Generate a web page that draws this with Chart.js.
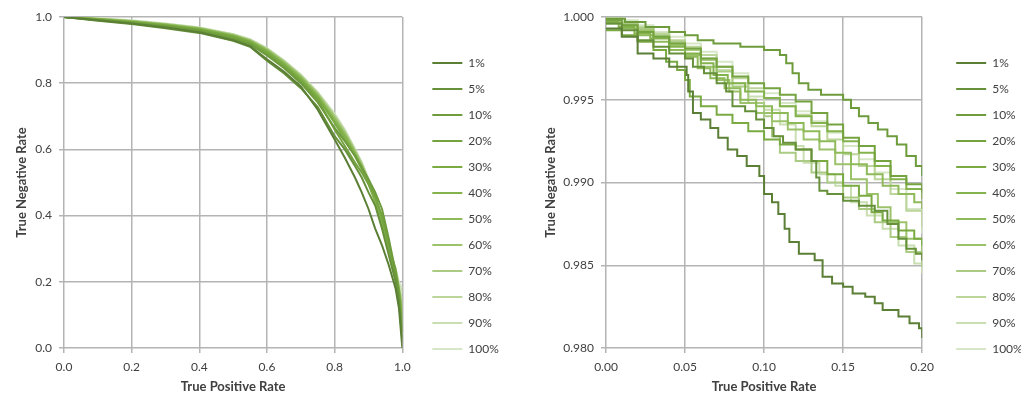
<!DOCTYPE html>
<html>
<head>
<meta charset="utf-8">
<script src="https://cdn.jsdelivr.net/npm/chart.js@4.4.1/dist/chart.umd.min.js"></script>
<style>
  body { margin: 0; background: #fff; width: 1021px; height: 395px; overflow: hidden; position: relative; }
  canvas { position: absolute; top: 0; }
  #fullChart { left: 0; }
  #zoomChart { left: 528px; }
</style>
</head>
<body>
<canvas id="fullChart" width="502" height="395"></canvas>
<canvas id="zoomChart" width="497" height="395"></canvas>
<script>
// legend labels + colours (dark -> light)
var sampleLabels = ["1%", "5%", "10%", "20%", "30%", "40%", "50%", "60%", "70%", "80%", "90%", "100%"];
var lineColors = ["#5b7f35", "#66903a", "#6e9c3c", "#74a33f", "#7aaa42", "#84b24c",
                  "#8fba5a", "#9cc26b", "#abcb84", "#bbd59b", "#c9deb1", "#d6e6c6"];

// ---- full ROC (left): shared TPR values, one TNR array per sample ----
var fullTpr = [0, 0.1, 0.2, 0.3, 0.4, 0.5, 0.55, 0.6, 0.65, 0.7, 0.75, 0.8, 0.83, 0.86, 0.88, 0.9, 0.92, 0.94, 0.96, 0.98, 0.99, 1.0];
var full1   = [1.0, 0.990, 0.980, 0.968, 0.954, 0.930, 0.912, 0.872, 0.835, 0.790, 0.720, 0.630, 0.575, 0.515, 0.470, 0.420, 0.360, 0.310, 0.250, 0.180, 0.120, 0.0];
var full5   = [1.0, 0.989, 0.979, 0.966, 0.952, 0.928, 0.910, 0.868, 0.830, 0.785, 0.728, 0.640, 0.600, 0.550, 0.515, 0.470, 0.430, 0.360, 0.280, 0.200, 0.140, 0.02];
var full10  = [1.0, 0.991, 0.982, 0.971, 0.958, 0.934, 0.917, 0.884, 0.846, 0.800, 0.742, 0.665, 0.625, 0.580, 0.545, 0.510, 0.470, 0.420, 0.330, 0.230, 0.160, 0.03];
var full20  = [1.0, 0.992, 0.984, 0.973, 0.961, 0.938, 0.920, 0.889, 0.850, 0.805, 0.750, 0.660, 0.610, 0.560, 0.530, 0.495, 0.455, 0.400, 0.310, 0.210, 0.150, 0.05];
var full30  = [1.0, 0.993, 0.985, 0.975, 0.962, 0.941, 0.924, 0.894, 0.855, 0.810, 0.755, 0.680, 0.630, 0.580, 0.540, 0.500, 0.460, 0.390, 0.310, 0.230, 0.170, 0.06];
var full40  = [1.0, 0.993, 0.985, 0.975, 0.963, 0.943, 0.926, 0.897, 0.858, 0.814, 0.760, 0.685, 0.640, 0.585, 0.545, 0.495, 0.440, 0.370, 0.300, 0.240, 0.180, 0.08];
var full50  = [1.0, 0.994, 0.987, 0.977, 0.965, 0.944, 0.928, 0.899, 0.861, 0.817, 0.762, 0.690, 0.645, 0.590, 0.550, 0.505, 0.455, 0.385, 0.310, 0.230, 0.170, 0.10];
var full60  = [1.0, 0.994, 0.987, 0.977, 0.966, 0.945, 0.929, 0.901, 0.864, 0.820, 0.766, 0.695, 0.648, 0.592, 0.553, 0.505, 0.450, 0.380, 0.300, 0.225, 0.175, 0.12];
var full70  = [1.0, 0.995, 0.988, 0.978, 0.966, 0.946, 0.930, 0.903, 0.866, 0.822, 0.768, 0.700, 0.652, 0.595, 0.555, 0.500, 0.445, 0.375, 0.290, 0.215, 0.165, 0.13];
var full80  = [1.0, 0.995, 0.988, 0.979, 0.967, 0.947, 0.931, 0.904, 0.867, 0.824, 0.770, 0.702, 0.655, 0.598, 0.558, 0.505, 0.450, 0.380, 0.300, 0.225, 0.180, 0.15];
var full90  = [1.0, 0.996, 0.989, 0.980, 0.968, 0.948, 0.932, 0.905, 0.868, 0.825, 0.772, 0.705, 0.658, 0.600, 0.560, 0.510, 0.455, 0.385, 0.310, 0.235, 0.190, 0.17];
var full100 = [1.0, 0.996, 0.990, 0.980, 0.968, 0.948, 0.933, 0.906, 0.869, 0.826, 0.773, 0.708, 0.660, 0.602, 0.562, 0.512, 0.458, 0.388, 0.315, 0.240, 0.200, 0.18];

// ---- zoomed ROC (right): [TPR, TNR] step corners per sample ----
var zoom1 = [[0,0.9993],[0.01,0.9988],[0.02,0.9978],[0.03,0.9975],[0.04,0.9970],[0.051,0.9965],[0.052,0.9955],[0.055,0.9942],[0.06,0.9938],[0.066,0.9933],[0.071,0.9927],[0.077,0.9920],[0.083,0.9916],[0.089,0.9910],[0.097,0.9904],[0.1,0.9893],[0.105,0.9888],[0.109,0.9881],[0.113,0.9872],[0.116,0.9864],[0.122,0.9857],[0.132,0.9853],[0.137,0.9843],[0.143,0.9839],[0.15,0.9837],[0.156,0.9833],[0.164,0.9831],[0.17,0.9827],[0.175,0.9823],[0.185,0.9819],[0.192,0.9815],[0.198,0.9812],[0.2,0.9806]];
var zoom5 = [[0,0.9996],[0.01,0.9992],[0.02,0.9986],[0.03,0.9982],[0.04,0.9978],[0.05,0.9975],[0.055,0.9970],[0.062,0.9966],[0.07,0.9960],[0.076,0.9955],[0.08,0.9946],[0.088,0.9943],[0.095,0.9938],[0.1,0.9933],[0.106,0.9928],[0.112,0.9924],[0.12,0.9920],[0.13,0.9913],[0.133,0.9903],[0.135,0.9895],[0.14,0.9893],[0.15,0.9889],[0.16,0.9886],[0.17,0.9883],[0.178,0.9875],[0.185,0.9866],[0.19,0.9860],[0.196,0.9857],[0.2,0.9853]];
var zoom10 = [[0,0.9999],[0.012,0.9997],[0.025,0.9994],[0.04,0.9991],[0.05,0.9989],[0.058,0.9986],[0.068,0.9984],[0.085,0.9982],[0.1,0.9980],[0.11,0.9977],[0.114,0.9972],[0.118,0.9966],[0.122,0.9960],[0.128,0.9956],[0.136,0.9953],[0.15,0.9950],[0.155,0.9945],[0.16,0.9940],[0.166,0.9936],[0.172,0.9932],[0.178,0.9928],[0.184,0.9923],[0.19,0.9916],[0.196,0.9910],[0.2,0.9904]];
var zoom20 = [[0,0.9998],[0.01,0.9995],[0.02,0.9991],[0.03,0.9988],[0.04,0.9984],[0.05,0.9981],[0.06,0.9975],[0.07,0.9970],[0.08,0.9964],[0.09,0.9960],[0.1,0.9957],[0.11,0.9953],[0.12,0.9949],[0.13,0.9942],[0.14,0.9935],[0.15,0.9927],[0.16,0.9922],[0.17,0.9913],[0.18,0.9904],[0.19,0.9899],[0.2,0.9894]];
var zoom30 = [[0,0.9992],[0.01,0.9989],[0.02,0.9985],[0.03,0.9980],[0.038,0.9973],[0.045,0.9968],[0.05,0.9962],[0.053,0.9952],[0.06,0.9946],[0.07,0.9941],[0.08,0.9936],[0.09,0.9931],[0.1,0.9926],[0.11,0.9923],[0.12,0.9920],[0.13,0.9913],[0.14,0.9905],[0.15,0.9898],[0.16,0.9892],[0.168,0.9882],[0.175,0.9877],[0.185,0.9871],[0.195,0.9866],[0.2,0.9862]];
var zoom40 = [[0,0.9997],[0.008,0.9994],[0.018,0.9990],[0.028,0.9987],[0.04,0.9982],[0.05,0.9978],[0.06,0.9972],[0.068,0.9965],[0.077,0.9960],[0.088,0.9955],[0.1,0.9951],[0.11,0.9946],[0.12,0.9940],[0.13,0.9936],[0.14,0.9931],[0.15,0.9925],[0.16,0.9918],[0.17,0.9910],[0.18,0.9902],[0.19,0.9896],[0.2,0.9890]];
var zoom50 = [[0,0.9996],[0.01,0.9993],[0.02,0.9989],[0.03,0.9985],[0.04,0.9980],[0.05,0.9976],[0.058,0.9969],[0.066,0.9963],[0.075,0.9957],[0.085,0.9950],[0.095,0.9946],[0.105,0.9942],[0.115,0.9936],[0.125,0.9931],[0.135,0.9925],[0.145,0.9918],[0.155,0.9911],[0.165,0.9905],[0.175,0.9898],[0.185,0.9893],[0.195,0.9888],[0.2,0.9884]];
var zoom60 = [[0,0.9998],[0.01,0.9995],[0.02,0.9992],[0.03,0.9988],[0.04,0.9983],[0.05,0.9977],[0.06,0.9970],[0.07,0.9962],[0.078,0.9955],[0.085,0.9948],[0.095,0.9942],[0.105,0.9937],[0.115,0.9932],[0.125,0.9926],[0.135,0.9920],[0.145,0.9911],[0.155,0.9902],[0.165,0.9893],[0.172,0.9885],[0.18,0.9876],[0.19,0.9866],[0.2,0.9857]];
var zoom70 = [[0,0.9999],[0.01,0.9996],[0.02,0.9993],[0.03,0.9989],[0.04,0.9985],[0.05,0.9980],[0.06,0.9974],[0.07,0.9967],[0.08,0.9958],[0.09,0.9948],[0.1,0.9940],[0.105,0.9928],[0.11,0.9918],[0.12,0.9913],[0.13,0.9906],[0.14,0.9900],[0.15,0.9891],[0.16,0.9884],[0.17,0.9876],[0.18,0.9867],[0.19,0.9858],[0.2,0.9849]];
var zoom80 = [[0,0.9999],[0.01,0.9997],[0.02,0.9994],[0.03,0.9990],[0.04,0.9986],[0.05,0.9982],[0.06,0.9977],[0.07,0.9970],[0.08,0.9963],[0.09,0.9957],[0.1,0.9951],[0.11,0.9946],[0.12,0.9941],[0.13,0.9934],[0.14,0.9926],[0.15,0.9917],[0.16,0.9910],[0.17,0.9902],[0.18,0.9893],[0.19,0.9883],[0.2,0.9873]];
var zoom90 = [[0,0.9999],[0.01,0.9996],[0.02,0.9992],[0.03,0.9988],[0.04,0.9984],[0.05,0.9980],[0.06,0.9975],[0.07,0.9968],[0.08,0.9960],[0.09,0.9952],[0.1,0.9944],[0.11,0.9935],[0.12,0.9922],[0.125,0.9912],[0.135,0.9905],[0.145,0.9898],[0.155,0.9888],[0.165,0.9880],[0.175,0.9872],[0.185,0.9862],[0.195,0.9851],[0.2,0.9845]];
var zoom100 = [[0,1.0],[0.01,0.9998],[0.02,0.9995],[0.03,0.9991],[0.04,0.9988],[0.05,0.9984],[0.06,0.9979],[0.07,0.9973],[0.08,0.9966],[0.09,0.9960],[0.1,0.9954],[0.11,0.9948],[0.12,0.9943],[0.13,0.9937],[0.14,0.9930],[0.15,0.9922],[0.16,0.9914],[0.17,0.9906],[0.18,0.9896],[0.19,0.9884],[0.2,0.9869]];

var fullSeries = [full1, full5, full10, full20, full30, full40, full50, full60, full70, full80, full90, full100];
var zoomSeries = [zoom1, zoom5, zoom10, zoom20, zoom30, zoom40, zoom50, zoom60, zoom70, zoom80, zoom90, zoom100];

Chart.defaults.font.family = "Lato, 'Open Sans', sans-serif";
Chart.defaults.color = "#404040";

function axis(title, min, max, step, digits, pad, size) {
  return {
    type: 'linear', min: min, max: max,
    ticks: { stepSize: step, color: "#404040", font: { size: 12 }, padding: 7,
             callback: function(v) { return Number(v).toFixed(digits); } },
    grid: { color: "#b4b4b4", lineWidth: 1.5, tickLength: 5 },
    border: { display: false },
    title: { display: true, text: title, color: "#404040",
             font: { size: 13, weight: 'bold' }, padding: pad },
    afterFit: function(s) {
      if (s.isHorizontal()) { s.height = size; } else { s.width = size; }
    }
  };
}

// empty axis that only keeps a gap between plot and legend
function gapAxis(w) {
  return { type: 'linear', position: 'right', display: true,
           grid: { display: false, drawTicks: false }, border: { display: false },
           ticks: { display: false },
           afterFit: function(s) { s.width = w; } };
}

function makeChart(id, sets, xAx, yAx, gap, stepped) {
  return new Chart(document.getElementById(id), {
    type: 'line',
    data: { datasets: sets.map(function(pts, i) {
      return { label: sampleLabels[i], data: pts, borderColor: lineColors[i],
               backgroundColor: lineColors[i], borderWidth: 2, pointRadius: 0,
               fill: false, tension: 0, stepped: stepped };
    }) },
    options: {
      responsive: false, animation: false, devicePixelRatio: 1,
      layout: { padding: { left: 0, top: 17, bottom: 0, right: 0 } },
      plugins: {
        tooltip: { enabled: false },
        legend: { position: 'right', align: 'center',
          labels: { usePointStyle: true, pointStyle: 'line', pointStyleWidth: 30,
                    color: "#404040", font: { size: 12 }, padding: 14 } }
      },
      scales: { x: xAx, y: yAx, gap: gapAxis(gap) }
    }
  });
}

var fullSets = fullSeries.map(function(ys) {
  return ys.map(function(y, k) { return { x: fullTpr[k], y: y }; });
});
var zoomSets = zoomSeries.map(function(pts) {
  return pts.map(function(p) { return { x: p[0], y: p[1] }; });
});

makeChart("fullChart", fullSets,
  axis("True Positive Rate", 0, 1, 0.2, 1, { top: 4, bottom: 0 }, 47),
  axis("True Negative Rate", 0, 1, 0.2, 1, { top: 14, bottom: 0 }, 64),
  16, false);

makeChart("zoomChart", zoomSets,
  axis("True Positive Rate", 0, 0.2, 0.05, 2, { top: 4, bottom: 0 }, 47),
  axis("True Negative Rate", 0.98, 1.0, 0.005, 3, { top: 15, bottom: 0 }, 78),
  20, true);
</script>
</body>
</html>
